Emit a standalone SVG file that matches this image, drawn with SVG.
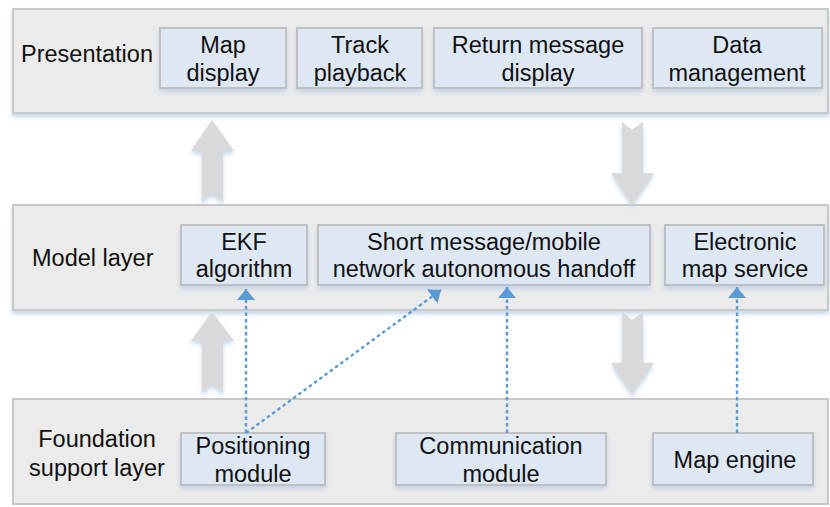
<svg xmlns="http://www.w3.org/2000/svg" width="830" height="507" viewBox="0 0 830 507">
<defs>
<filter id="sh" x="-10%" y="-10%" width="120%" height="130%">
<feGaussianBlur in="SourceAlpha" stdDeviation="2"/>
<feOffset dx="0" dy="3" result="b"/>
<feFlood flood-color="#b8cde8" flood-opacity="0.8"/>
<feComposite in2="b" operator="in"/>
<feMerge><feMergeNode/><feMergeNode in="SourceGraphic"/></feMerge>
</filter>
<marker id="ah" markerWidth="11" markerHeight="18" refX="11" refY="9" orient="auto" markerUnits="userSpaceOnUse" viewBox="0 0 11 18">
<path d="M0,0 L11,9 L0,18 z" fill="#5b9bd5"/>
</marker>
</defs>
<style>
.layer{fill:#ebebeb;stroke:#c8c8c8;stroke-width:2}
.mod{fill:#dee8f4;stroke:#c0c0c0;stroke-width:2}
text{font-family:"Liberation Sans",Arial,sans-serif;font-size:23.5px;fill:#111}
.c{text-anchor:middle}
.big{fill:#d9d9d9}
.dash{stroke:#5b9bd5;stroke-width:2.4;stroke-dasharray:3.5 3;fill:none}
</style>
<rect width="830" height="507" fill="#fff"/>

<g id="presentation-layer">
<rect class="layer" x="13" y="9" width="815" height="104" filter="url(#sh)"/>
<text x="21" y="62">Presentation</text>
</g>
<g id="map-display">
<rect class="mod" x="160" y="28" width="126" height="60" filter="url(#sh)"/>
<text class="c" x="223" y="53">Map</text><text class="c" x="223" y="81">display</text>
</g>
<g id="track-playback">
<rect class="mod" x="297" y="28" width="125" height="60" filter="url(#sh)"/>
<text class="c" x="360" y="53">Track</text><text class="c" x="360" y="81">playback</text>
</g>
<g id="return-message-display">
<rect class="mod" x="434" y="28" width="208" height="60" filter="url(#sh)"/>
<text class="c" x="538" y="53">Return message</text><text class="c" x="538" y="81">display</text>
</g>
<g id="data-management">
<rect class="mod" x="653" y="28" width="169" height="60" filter="url(#sh)"/>
<text class="c" x="737" y="53">Data</text><text class="c" x="737" y="81">management</text>
</g>

<g id="model-layer">
<rect class="layer" x="13" y="205" width="815" height="105" filter="url(#sh)"/>
<text x="32" y="266">Model layer</text>
</g>
<g id="ekf-algorithm">
<rect class="mod" x="181" y="225" width="126" height="60" filter="url(#sh)"/>
<text class="c" x="244" y="250">EKF</text><text class="c" x="244" y="277">algorithm</text>
</g>
<g id="short-message-handoff">
<rect class="mod" x="318" y="225" width="332" height="60" filter="url(#sh)"/>
<text class="c" x="484" y="250">Short message/mobile</text><text class="c" x="484" y="277">network autonomous handoff</text>
</g>
<g id="electronic-map-service">
<rect class="mod" x="665" y="225" width="159" height="60" filter="url(#sh)"/>
<text class="c" x="745" y="250">Electronic</text><text class="c" x="745" y="277">map service</text>
</g>

<g id="foundation-layer">
<rect class="layer" x="13" y="399" width="815" height="105"/>
<text class="c" x="97" y="447">Foundation</text><text class="c" x="97" y="476">support layer</text>
</g>
<g id="positioning-module">
<rect class="mod" x="181" y="433" width="144" height="52" filter="url(#sh)"/>
<text class="c" x="253" y="454">Positioning</text><text class="c" x="253" y="482">module</text>
</g>
<g id="communication-module">
<rect class="mod" x="396" y="433" width="210" height="52" filter="url(#sh)"/>
<text class="c" x="501" y="454">Communication</text><text class="c" x="501" y="482">module</text>
</g>
<g id="map-engine">
<rect class="mod" x="653" y="433" width="160" height="52" filter="url(#sh)"/>
<text class="c" x="735" y="468">Map engine</text>
</g>

<g id="connectors">
<path class="big" d="M202,202 L212,193 L223,202 L223,151 L234,151 L212,120 L191,151 L202,151 Z" filter="url(#sh)"/>
<path class="big" d="M202,393 L212,384 L223,393 L223,341 L234,341 L212,312 L191,341 L202,341 Z" filter="url(#sh)"/>
<path class="big" d="M622,122 L632,130 L643,122 L643,173 L654,173 L632,205 L611,173 L622,173 Z" filter="url(#sh)"/>
<path class="big" d="M622,312 L632,320 L643,312 L643,363 L654,363 L632,394 L611,363 L622,363 Z" filter="url(#sh)"/>
<line class="dash" x1="246" y1="433" x2="246" y2="289" marker-end="url(#ah)"/>
<line class="dash" x1="246" y1="433" x2="441" y2="290" marker-end="url(#ah)"/>
<line class="dash" x1="507" y1="433" x2="507" y2="287" marker-end="url(#ah)"/>
<line class="dash" x1="737" y1="433" x2="737" y2="287" marker-end="url(#ah)"/>
</g>
</svg>
